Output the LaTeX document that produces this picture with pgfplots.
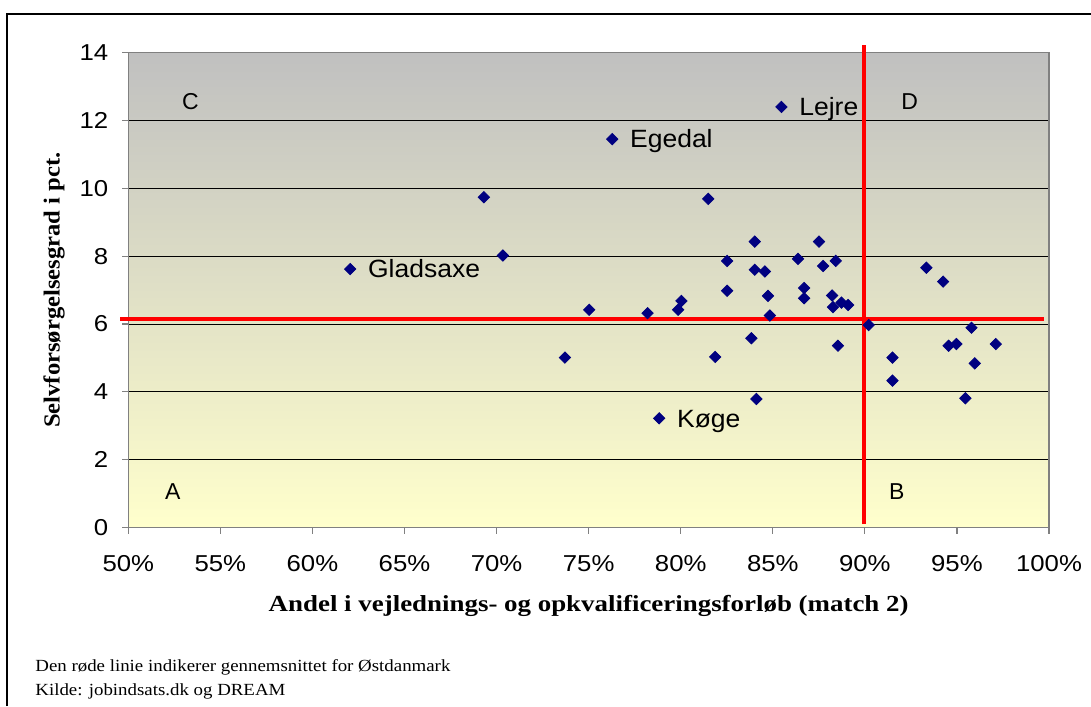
\documentclass[border=0pt]{standalone}
\usepackage{fontspec}
\setmainfont{Liberation Sans}
\newfontfamily\serif{Liberation Serif}
\usepackage{pgfplots}
\pgfplotsset{compat=1.18}
\definecolor{navy}{HTML}{000080}
\definecolor{bgtop}{HTML}{C0C0C0}
\definecolor{bgbot}{HTML}{FFFFCC}
\definecolor{axgray}{HTML}{808080}
\begin{document}
\begin{tikzpicture}
\useasboundingbox (0,0) rectangle (545.5pt,-353pt);
\draw[line width=0.75pt] (3.5pt,-353pt) -- (3.5pt,-7pt) -- (545.5pt,-7pt);
\begin{axis}[
  at={(64.15pt,-263.75pt)}, anchor=south west,
  scale only axis, width=460.35pt, height=237.4pt,
  xmin=50, xmax=100, ymin=0, ymax=14,
  xtick={50,55,60,65,70,75,80,85,90,95,100},
  ytick={0,2,4,6,8,10,12,14},
  xticklabel={\scalebox{1.12}[1]{\pgfmathprintnumber{\tick}\%}},
  yticklabel={\scalebox{1.12}[1]{\pgfmathprintnumber{\tick}}},
  /pgf/number format/assume math mode=true,
  tick label style={font=\fontsize{11.5}{13}\selectfont},
  xticklabel style={yshift=-7.5pt},
  yticklabel style={xshift=-3.5pt},
  ymajorgrids, grid style={black, line width=0.5pt},
  axis line style={draw=axgray, line width=0.75pt},
  tick align=outside, tick style={axgray, line width=0.6pt}, major tick length=3pt,
  xtick pos=left, ytick pos=left,
  axis background/.style={shade, top color=bgtop, bottom color=bgbot},
  xlabel={\scalebox{1.17}[1]{Andel i vejlednings- og opkvalificeringsforløb (match 2)}},
  ylabel={\scalebox{1.07}[1]{Selvforsørgelsesgrad i pct.}},
  label style={font=\serif\bfseries\fontsize{11.5}{13}\selectfont},
  xlabel style={at={(axis description cs:0.5,0)}, anchor=base, yshift=-42.1pt},
  ylabel style={at={(axis description cs:-0.0746,0.5)}, anchor=base},
  clip=false,
]
\addplot[only marks, mark=square*, mark size=2pt, mark options={rotate=45, fill=navy, draw=navy}] coordinates {
(62.05,7.62) (69.31,9.74) (70.34,8.02) (73.71,5.01) (75.03,6.42)
(76.28,11.45) (78.20,6.32) (78.83,3.22) (79.86,6.42) (80.04,6.68)
(81.49,9.69) (81.87,5.03) (82.52,7.86) (82.52,6.98) (83.84,5.58)
(84.02,8.43) (84.02,7.60) (84.11,3.79) (84.57,7.55) (84.74,6.83)
(84.84,6.25) (85.47,12.40) (86.37,7.92) (86.70,7.06) (86.70,6.76)
(87.51,8.43) (87.73,7.71) (88.22,6.84) (88.27,6.50) (88.42,7.86)
(88.54,5.36) (88.73,6.63) (89.09,6.56) (90.21,5.97) (91.50,5.01)
(91.50,4.33) (93.34,7.66) (94.25,7.25) (94.55,5.36) (94.97,5.41)
(95.46,3.81) (95.79,5.89) (95.97,4.84) (97.11,5.41)
};
\addplot[red, line width=2pt] coordinates {(49.55,6.16) (99.71,6.16)};
\addplot[red, line width=2pt] coordinates {(89.95,0.1) (89.95,14.23)};
\begin{scope}[every node/.style={anchor=base west, inner sep=0pt, xshift=8.75pt, yshift=-4.4pt, font=\fontsize{12.5}{14}\selectfont}]
\node at (axis cs:85.47,12.40) {\scalebox{1.06}[1]{Lejre}};
\node at (axis cs:76.28,11.45) {\scalebox{1.06}[1]{Egedal}};
\node at (axis cs:62.05,7.62) {\scalebox{1.06}[1]{Gladsaxe}};
\node at (axis cs:78.83,3.22) {\scalebox{1.06}[1]{Køge}};
\end{scope}
\begin{scope}[every node/.style={anchor=center, inner sep=0pt, font=\fontsize{11.5}{13}\selectfont}]
\node at (axis cs:53.38,12.57) {C};
\node at (axis cs:92.44,12.57) {D};
\node at (axis cs:52.42,1.05) {A};
\node at (axis cs:91.73,1.05) {B};
\end{scope}
\end{axis}
\node[anchor=base west, inner sep=0pt, font=\serif\fontsize{8.5}{10}\selectfont] at (17.5pt,-335.85pt) {\scalebox{1.11}[1]{Den røde linie indikerer gennemsnittet for Østdanmark}};
\node[anchor=base west, inner sep=0pt, font=\serif\fontsize{8.5}{10}\selectfont] at (17.5pt,-347.5pt) {\scalebox{1.11}[1]{Kilde: jobindsats.dk og DREAM}};
\end{tikzpicture}
\end{document}
